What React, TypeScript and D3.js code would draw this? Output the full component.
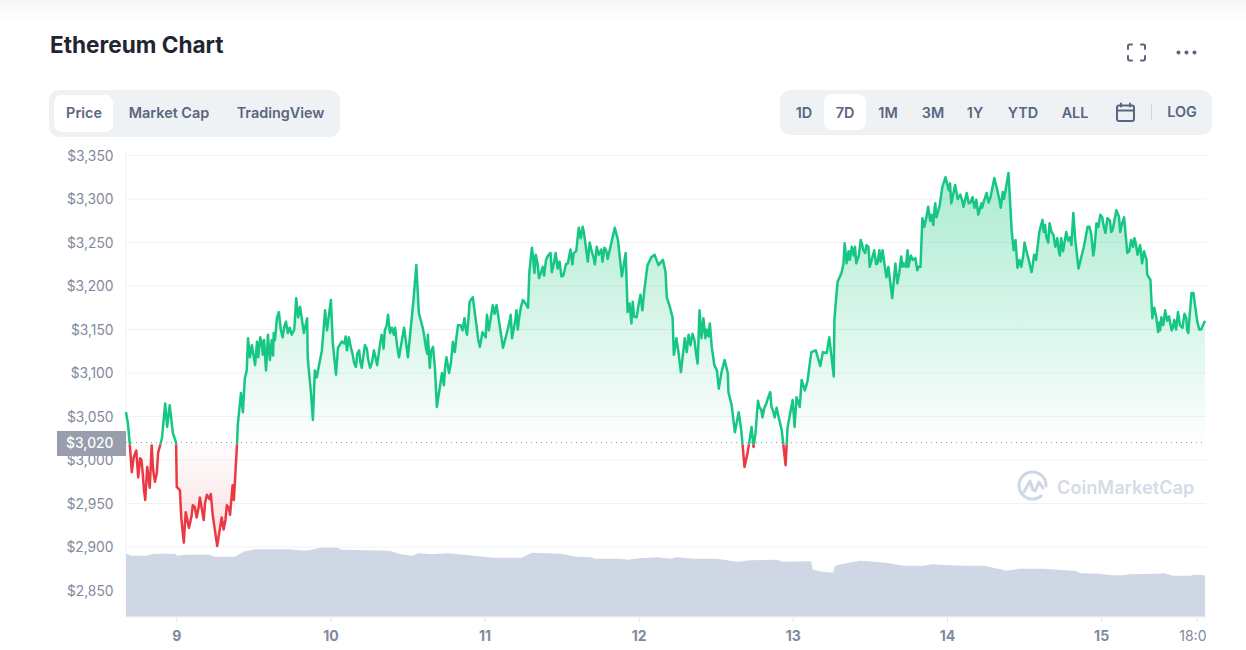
import React from 'react';
import * as d3 from 'd3';

// hours since the first sample of the 7D window
const priceHours = [
  0, 0.3, 0.6, 0.9, 1.2, 1.6, 1.9, 2.2, 2.6, 3.0, 3.3, 3.7, 4.0, 4.5, 5.0, 5.6, 6.1, 6.4, 6.8, 7.3, 7.8, 7.9, 8.4, 8.6, 9.0, 9.3, 9.8, 10.7, 11.0, 11.5,
  12.1, 12.6, 13.2, 13.5, 14.2, 14.6, 14.9, 15.2, 15.7, 16.2, 16.6, 16.8, 17.3, 17.4, 17.9, 18.2, 18.5, 18.8, 19.0, 19.6, 20.1, 20.9, 21.3, 21.5, 21.8, 22.1, 22.4, 23.2, 23.5, 23.8,
  24.4, 24.9, 25.8, 26.5, 26.8, 27.1, 27.7, 28.2, 28.3, 28.8, 29.1, 29.4, 29.7, 30.5, 31.0, 31.3, 31.9, 32.2, 32.7, 33.0, 33.6, 34.4, 34.7, 35.3, 35.8, 36.3, 36.7, 37.2, 38.0, 38.6,
  39.1, 39.8, 40.3, 40.8, 41.4, 41.9, 42.5, 43.3, 43.9, 44.3, 44.8, 45.2, 45.6, 46.2, 46.7, 47.0, 47.3, 47.8, 48.1, 48.4, 49.2, 49.5, 49.9, 50.3, 50.9, 51.2, 51.7, 52.4, 52.7, 53.1,
  53.5, 54.0, 54.6, 55.1, 55.5, 56.0, 56.2, 56.5, 57.1, 57.7, 58.7, 59.3, 59.9, 60.4, 60.8, 61.2, 61.8, 62.6, 62.8, 63.2, 63.5, 63.8, 64.3, 64.9, 65.4, 66.1, 66.3, 66.9, 67.8, 68.8,
  69.2, 69.7, 70.5, 71.3, 71.9, 72.2, 72.8, 73.3, 73.6, 74.2, 74.5, 75.0, 76.1, 76.6, 77.2, 77.8, 78.1, 78.7, 78.9, 79.5, 80.1, 80.4, 81.2, 81.8, 82.3, 82.9, 83.6, 84.0, 84.2, 84.6,
  85.1, 85.3, 85.7, 86.4, 87.0, 87.3, 87.6, 88.5, 89.0, 89.3, 89.6, 89.9, 90.4, 90.9, 91.2, 91.6, 92.0, 92.3, 92.7, 93.2, 93.7, 93.8, 94.3, 94.8, 95.4, 95.8, 96.3, 96.8, 97.4, 97.7,
  98.2, 98.6, 99.1, 99.4, 100.0, 100.5, 101.0, 101.3, 102.1, 102.7, 103.0, 103.8, 104.1, 104.4, 104.9, 105.2, 105.7, 106.1, 106.7, 107.4, 108.1, 108.5, 109.1, 109.5, 110.2, 110.3, 110.5, 110.8, 111.4, 111.9,
  112.2, 113.0, 113.7, 114.4, 114.8, 115.3, 115.8, 116.5, 117.0, 117.3, 117.8, 118.4, 118.7, 119.3, 119.8, 120.1, 120.7, 121.1, 121.7, 121.8, 122.5, 123.2, 123.7, 124.0, 124.3, 124.9, 125.4, 125.9, 126.2, 126.7,
  127.1, 127.6, 128.1, 128.5, 129.1, 129.9, 130.4, 130.9, 131.5, 132.1, 132.4, 132.7, 133.2, 133.3, 134.0, 134.6, 135.2, 136.0, 136.5, 136.9, 137.4, 137.9, 138.2, 138.5, 138.8, 139.1, 139.4, 139.9, 140.5, 141.0,
  141.4, 141.7, 142.2, 142.7, 143.3, 143.8, 144.4, 145.2, 145.6, 146.1, 146.4, 147.2, 147.5, 147.8, 148.3, 149.1, 149.7, 150.3, 150.8, 151.1, 152.0, 152.5, 152.8, 153.6, 154.2, 155.0, 155.4, 155.9, 156.5, 157.0,
  157.5, 157.9, 158.2, 158.9, 159.0, 159.5, 159.8, 160.1, 160.7, 161.2, 161.8, 162.8, 163.2, 163.8, 164.5, 165.1, 165.4, 165.9, 166.2, 166.8, 167.4, 168,
];

const priceValues = [
  3055, 3042, 3017, 2986, 3003, 3011, 2980, 3002, 2985, 2954, 2992, 2968, 3017, 2975, 3008, 3025, 3065, 3038, 3063, 3031, 3020, 2969, 2965, 2934, 2905, 2940, 2922, 2946, 2934, 2957,
  2931, 2960, 2961, 2937, 2901, 2920, 2934, 2920, 2948, 2937, 2971, 2954, 3020, 3040, 3077, 3055, 3094, 3103, 3140, 3132, 3109, 3141, 3121, 3138, 3103, 3144, 3115, 3138, 3163, 3170,
  3141, 3159, 3144, 3186, 3164, 3176, 3146, 3163, 3117, 3077, 3046, 3103, 3095, 3126, 3172, 3149, 3184, 3134, 3098, 3129, 3136, 3126, 3141, 3121, 3107, 3126, 3106, 3132, 3106, 3126,
  3109, 3144, 3149, 3167, 3152, 3152, 3118, 3152, 3118, 3149, 3187, 3224, 3169, 3152, 3129, 3144, 3106, 3130, 3106, 3061, 3100, 3086, 3118, 3100, 3136, 3124, 3155, 3149, 3163, 3144,
  3182, 3187, 3153, 3130, 3147, 3141, 3167, 3149, 3178, 3178, 3129, 3146, 3167, 3152, 3172, 3163, 3184, 3175, 3216, 3244, 3222, 3236, 3209, 3222, 3230, 3238, 3216, 3238, 3211, 3226,
  3242, 3238, 3267, 3261, 3228, 3250, 3233, 3245, 3236, 3228, 3244, 3231, 3267, 3253, 3211, 3238, 3170, 3157, 3182, 3164, 3190, 3172, 3224, 3233, 3236, 3224, 3230, 3216, 3187, 3178,
  3164, 3121, 3140, 3101, 3140, 3124, 3144, 3138, 3111, 3172, 3140, 3163, 3150, 3157, 3130, 3109, 3103, 3082, 3100, 3115, 3100, 3078, 3063, 3032, 3055, 3034, 2992, 3009, 3038, 3015,
  3049, 3061, 3049, 3060, 3072, 3061, 3049, 3060, 3034, 2994, 3037, 3069, 3038, 3072, 3061, 3092, 3080, 3090, 3124, 3126, 3108, 3124, 3123, 3141, 3096, 3161, 3180, 3205, 3215, 3249,
  3226, 3245, 3226, 3253, 3241, 3247, 3222, 3241, 3226, 3241, 3241, 3210, 3222, 3186, 3226, 3203, 3234, 3226, 3241, 3222, 3230, 3218, 3222, 3278, 3268, 3291, 3282, 3290, 3279, 3293,
  3314, 3325, 3310, 3295, 3316, 3305, 3291, 3307, 3296, 3290, 3299, 3282, 3295, 3290, 3307, 3302, 3324, 3299, 3308, 3308, 3330, 3264, 3241, 3253, 3221, 3230, 3222, 3250, 3232, 3216,
  3236, 3230, 3262, 3276, 3256, 3272, 3259, 3242, 3255, 3249, 3262, 3247, 3284, 3253, 3220, 3244, 3268, 3259, 3244, 3272, 3279, 3261, 3278, 3264, 3287, 3270, 3279, 3238, 3253, 3255,
  3236, 3247, 3226, 3230, 3213, 3207, 3163, 3175, 3147, 3164, 3172, 3149, 3161, 3170, 3152, 3163, 3146, 3192, 3192, 3159, 3150, 3160,
];

// second pass over the zigzag stretches, merged in by hour
const detailHours = [
  2.4, 2.8, 4.2, 4.8, 10.2, 10.4, 11.3, 12.3, 13.0, 15.5, 16.0,
  19.3, 20.4, 20.6, 21.1, 22.7, 22.9, 23.0, 24.1, 24.6, 25.2, 25.5, 26.2,
  34.0, 34.2, 35.0, 35.5, 36.0, 36.5, 37.5, 37.7, 38.3, 38.9, 39.5, 40.0, 40.1, 40.6, 41.1, 41.7, 42.2,
  46.4, 46.9, 47.5, 49.7, 50.6, 51.5, 52.1, 52.9, 53.3, 54.3, 54.8,
  57.4, 59.6, 60.1, 60.6, 61.0, 61.5, 62.2,
  63.4, 63.6, 64.1, 64.6, 65.1, 65.7, 66.6, 67.2, 67.5, 68.1, 68.5, 69.5, 70.1, 70.8, 71.1, 71.6, 72.5, 73.0, 74.0, 74.8,
  78.4, 79.1, 79.8, 80.7,
  86.0, 86.7, 87.9, 88.2, 88.8, 90.2, 90.7,
  98.0, 98.4, 98.9, 99.7, 100.3, 100.8, 101.6,
  111.7, 112.5, 112.7, 113.3, 113.5, 114.1, 114.6, 115.1, 115.6, 116.1, 116.8, 117.5, 118.1,
  120.4, 120.9, 121.4, 122.2, 122.9, 123.4,
  124.6, 125.2, 125.7, 126.0,
  128.3, 129.5, 130.2, 131.2, 131.8, 133.6, 134.3, 135.6, 136.2, 136.7,
  139.7, 140.2, 140.8, 141.2,
  142.9, 143.1, 143.6, 144.1, 144.7, 145.0, 145.4, 145.9, 146.7, 147.0,
  149.4, 150.0, 150.6, 151.4, 151.7, 152.2, 153.2, 153.4, 154.6, 154.8,
  156.2, 156.8, 157.2, 158.5,
  160.4, 160.9, 161.0, 161.5, 162.1, 162.4, 163.0, 163.5, 164.1, 164.8, 165.2, 166.5, 167.1,
];
const detailValues = [
  3000, 2965, 2990, 2985, 2935, 2948, 2945, 2950, 2955, 2932, 2945,
  3118, 3136, 3118, 3136, 3138, 3120, 3146, 3150, 3152, 3146, 3152, 3150,
  3134, 3142, 3130, 3112, 3122, 3112, 3128, 3116, 3112, 3116, 3130, 3138, 3128, 3155, 3146, 3144, 3132,
  3144, 3122, 3125, 3108, 3112, 3144, 3155, 3150, 3160, 3170, 3140,
  3168, 3155, 3140, 3160, 3150, 3176, 3180,
  3232, 3215, 3225, 3215, 3212, 3235, 3225, 3220, 3228, 3212, 3225, 3225, 3240, 3255, 3268, 3245, 3240, 3225, 3242, 3240,
  3180, 3165, 3178, 3195,
  3125, 3120, 3132, 3145, 3120, 3140, 3142,
  3030, 3068, 3058, 3065, 3078, 3055, 3050,
  3225, 3240, 3230, 3235, 3245, 3235, 3248, 3238, 3245, 3230, 3225, 3228, 3225,
  3215, 3222, 3222, 3235, 3232, 3222,
  3278, 3275, 3270, 3295,
  3318, 3300, 3298, 3295, 3302, 3298, 3296, 3312, 3290, 3300,
  3235, 3240, 3222, 3225,
  3262, 3270, 3250, 3262, 3245, 3255, 3235, 3240, 3252, 3256,
  3255, 3268, 3235, 3268, 3282, 3270, 3275, 3262, 3280, 3262,
  3240, 3245, 3250, 3240,
  3165, 3158, 3149, 3155, 3160, 3165, 3152, 3150, 3155, 3168, 3150, 3175, 3150,
];

// 24h volume, $ billions
const volumeHours = [
  0, 0.9, 3.1, 4.4, 7.6, 8.0, 9.3, 13, 13.8, 17, 18.3, 20.1, 25, 28.1, 30.3, 33, 33.5, 41.1, 42.8, 44.6, 45.5, 47.7, 50, 52.7, 54.9, 57.1, 61.6, 63.2, 67.8, 70.1,
  72.3, 73.2, 76.8, 78.1, 79.9, 82.6, 84.8, 85.7, 88.4, 92, 95.1, 97.3, 101.3, 102.2, 106.7, 106.9, 108.5, 110.1, 110.4, 112.1, 114.3, 116.5, 118.8, 121, 124.1, 125.5, 130.4, 133.5, 136.2, 137,
  139.1, 142.7, 147.7, 148.7, 151.6, 153.6, 155.5, 156.2, 160.4, 161.7, 163, 165.8, 166.1, 168,
];
const volumeValues = [
  18.8, 18.2, 18.2, 18.8, 18.8, 18.2, 18.5, 18.5, 17.9, 17.9, 19.4, 20.2, 20.2, 19.7, 20.6, 20.6, 20.0, 19.7, 18.7, 18.2, 19.0, 18.7, 19.0, 18.5, 18.1, 17.6, 17.6, 19.1, 18.8, 17.9,
  17.8, 17.3, 17.3, 17.0, 17.5, 17.8, 17.3, 17.8, 17.3, 17.3, 16.4, 16.9, 17.0, 16.4, 16.6, 14.0, 13.4, 13.1, 15.2, 16.0, 16.7, 16.4, 16.0, 15.2, 15.2, 15.7, 15.2, 15.2, 14.2, 13.7,
  14.3, 14.3, 13.7, 13.0, 12.8, 12.4, 12.4, 12.7, 12.8, 13.0, 12.2, 12.2, 12.5, 12.4,
];

const priceTicks = [3350, 3300, 3250, 3200, 3150, 3100, 3050, 3000, 2950, 2900, 2850];
const timeTickHours = [7.9, 31.9, 55.9, 79.9, 103.9, 127.9, 151.9, 166.8];
const timeTickLabels = ['9', '10', '11', '12', '13', '14', '15', '18:00'];
const basePrice = 3020;

const rangeTabs = ['1D', '7D', '1M', '3M', '1Y', 'YTD', 'ALL'];
const rangeTabCenters = [804, 845, 888, 933, 975, 1023, 1075];

const GREEN = '#16c784';
const RED = '#ea3943';
const TEXT = '#58667e';
const MUTED = '#808a9d';
const FONT = 'Inter, sans-serif';

const x = d3.scaleLinear().domain([0, 168]).range([126, 1205]);
const y = d3.scaleLinear().domain([2850, 3350]).range([590.5, 155.5]);
const yVol = d3.scaleLinear().domain([0, 30]).range([616.5, 516.5]);

const priceData = [
  ...priceHours.map((h, i) => ({ h, v: priceValues[i] })),
  ...detailHours.map((h, i) => ({ h, v: detailValues[i] })),
].sort((a, b) => d3.ascending(a.h, b.h));
const volumeData = volumeHours.map((h, i) => ({ h, v: volumeValues[i] }));

const baseY = y(basePrice);
const priceLine = d3.line<{ h: number; v: number }>().x(d => x(d.h)).y(d => y(d.v));
const priceArea = d3.area<{ h: number; v: number }>().x(d => x(d.h)).y0(baseY).y1(d => y(d.v));
const volumeArea = d3.area<{ h: number; v: number }>().x(d => x(d.h)).y0(yVol(0)).y1(d => yVol(d.v));

const fmt = (v: number) => '$' + d3.format(',')(v);

export default function App() {
  const linePath = priceLine(priceData) || '';
  const areaPath = priceArea(priceData) || '';
  return (
    <div style={{ position: 'fixed', left: 0, top: 0 }}>
      <svg width={1246} height={650} style={{ display: 'block', background: '#fff' }} fontFamily={FONT}>
        <defs>
          <linearGradient id="topShade" x1="0" x2="0" y1="0" y2="1">
            <stop offset="0" stopColor="#f6f7f8" />
            <stop offset="1" stopColor="#fff" />
          </linearGradient>
          <linearGradient id="greenFill" gradientUnits="userSpaceOnUse" x1="0" x2="0" y1={y(3330)} y2={baseY}>
            <stop offset="0" stopColor={GREEN} stopOpacity={0.36} />
            <stop offset="1" stopColor={GREEN} stopOpacity={0.01} />
          </linearGradient>
          <linearGradient id="redFill" gradientUnits="userSpaceOnUse" x1="0" x2="0" y1={baseY} y2={y(2900)}>
            <stop offset="0" stopColor={RED} stopOpacity={0.01} />
            <stop offset="1" stopColor={RED} stopOpacity={0.18} />
          </linearGradient>
          <clipPath id="aboveFill"><rect x={126} y={140} width={1080} height={baseY - 140} /></clipPath>
          <clipPath id="belowFill"><rect x={126} y={baseY} width={1080} height={200} /></clipPath>
          <clipPath id="aboveLine"><rect x={120} y={140} width={1090} height={baseY + 2 - 140} /></clipPath>
          <clipPath id="belowLine"><rect x={120} y={baseY + 2} width={1090} height={200} /></clipPath>
          <clipPath id="axisClip"><rect x={120} y={620} width={1086} height={30} /></clipPath>
        </defs>

        <rect x={0} y={0} width={1246} height={22} fill="url(#topShade)" />

        <text x={50} y={53} fontSize={22.6} fontWeight={700} fill="#222531">Ethereum Chart</text>

        {/* header icons */}
        <g fill="none" stroke={TEXT} strokeWidth={2} strokeLinecap="round" strokeLinejoin="round">
          <path d="M1128 49v-3a1.5 1.5 0 0 1 1.5-1.5h2.5" />
          <path d="M1141 44.500h2.500a1.500 1.500 0 0 1 1.500 1.500v3" />
          <path d="M1128 56v3a1.500 1.500 0 0 0 1.500 1.500h2.500" />
          <path d="M1141 60.500h2.500a1.500 1.500 0 0 0 1.500-1.500v-3" />
        </g>
        {[1178.500, 1186.500, 1194.500].map(cx => <circle key={cx} cx={cx} cy={52.500} r={2} fill={TEXT} />)}

        {/* chart type tabs */}
        <rect x={49} y={90} width={291} height={47} rx={10} fill="#eff2f5" />
        <rect x={54} y={95} width={59} height={37} rx={8} fill="#fff" />
        <g fontSize={14.4} fontWeight={600} fill={TEXT}>
          <text x={84} y={118} textAnchor="middle">Price</text>
          <text x={169} y={118} textAnchor="middle">Market Cap</text>
          <text x={280.500} y={118} textAnchor="middle">TradingView</text>
        </g>

        {/* range tabs */}
        <rect x={780} y={90} width={432} height={45} rx={10} fill="#eff2f5" />
        <rect x={824} y={94} width={42} height={36} rx={8} fill="#fff" />
        <g fontSize={14.4} fontWeight={600} fill={TEXT} textAnchor="middle">
          {rangeTabs.map((t, i) => <text key={t} x={rangeTabCenters[i]} y={118}>{t}</text>)}
          <text x={1182} y={117}>LOG</text>
        </g>
        <g fill="none" stroke={TEXT} strokeWidth={2} strokeLinecap="round">
          <rect x={1117} y={105.500} width={17} height={15.500} rx={2} />
          <path d="M1117 110.500h17M1121 103.500v3M1130 103.500v3" />
        </g>
        <line x1={1151.500} x2={1151.500} y1={104} y2={120} stroke="#cfd6e4" />

        {/* grid */}
        <line x1={126} x2={126} y1={150} y2={617} stroke="#eff2f5" />
        {priceTicks.map(t => (
          <line key={t} x1={126} x2={1206} y1={y(t)} y2={y(t)} stroke="#eff2f5" />
        ))}
        <line x1={126} x2={1206} y1={617} y2={617} stroke="#eff2f5" />

        {/* watermark */}
        <g fill="none" stroke="#cfd6e4" strokeWidth={3} strokeLinecap="round" strokeLinejoin="round">
          <path d="M1041 496a13.500 13.500 0 1 1 5-10" />
          <path d="M1024 492l6-11 3 9 2 1 4-9 4 6" />
        </g>
        <text x={1057} y={494} fontSize={18.2} fontWeight={600} fill="#d5dbe7">CoinMarketCap</text>

        {/* volume */}
        <path d={volumeArea(volumeData) || ''} fill="#cfd6e4" />

        {/* price fills and line */}
        <path d={areaPath} fill="url(#greenFill)" clipPath="url(#aboveFill)" />
        <path d={areaPath} fill="url(#redFill)" clipPath="url(#belowFill)" />
        <path d={linePath} fill="none" stroke={GREEN} strokeWidth={2.5} strokeLinejoin="round" clipPath="url(#aboveLine)" />
        <path d={linePath} fill="none" stroke={RED} strokeWidth={2.5} strokeLinejoin="round" clipPath="url(#belowLine)" />

        {/* base price line */}
        <line x1={126} x2={1205} y1={baseY} y2={baseY} stroke="#8a8f9c" strokeWidth={1} strokeDasharray="1 4" />

        {/* y axis labels */}
        <g fontSize={13.8} fill={MUTED} textAnchor="end">
          {priceTicks.map(t => (
            <text key={t} x={113.500} y={y(t) + 5}>{fmt(t)}</text>
          ))}
        </g>
        <rect x={57} y={431} width={69} height={25} fill="#989eab" />
        <text x={113.500} y={448} fontSize={13.8} fontWeight={500} fill="#fff" textAnchor="end">{fmt(basePrice)}</text>

        {/* x axis */}
        {timeTickHours.map(h => (
          <line key={h} x1={x(h)} x2={x(h)} y1={617} y2={622} stroke="#dfe3ea" />
        ))}
        <g clipPath="url(#axisClip)" fontSize={14} fill={MUTED} textAnchor="middle">
          {timeTickHours.map((h, i) => (
            <text key={h} x={x(h)} y={641} fontWeight={i === 7 ? 400 : 700}>{timeTickLabels[i]}</text>
          ))}
        </g>
      </svg>
    </div>
  );
}
